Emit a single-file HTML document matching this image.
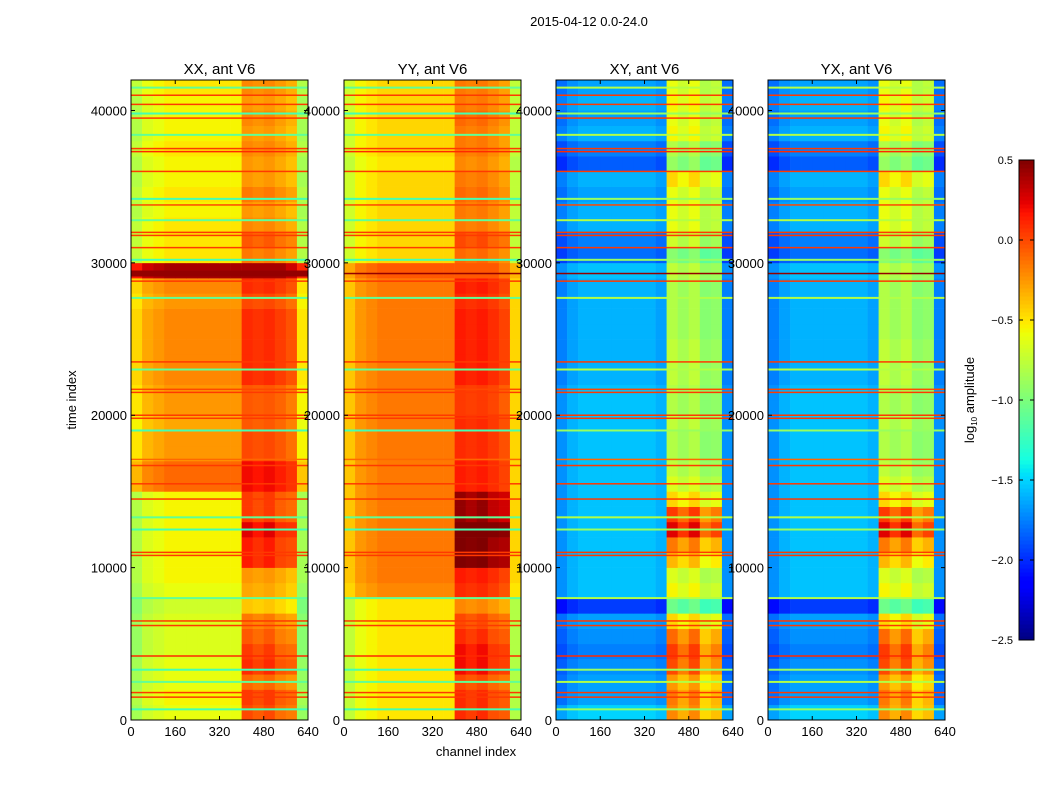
<!DOCTYPE html>
<html><head><meta charset="utf-8"><style>
body{margin:0;background:#fff;font-family:"Liberation Sans",sans-serif;}
svg text{font-family:"Liberation Sans",sans-serif;fill:#000}
</style></head><body>
<svg id="fig" width="1050" height="800" viewBox="0 0 1050 800" xmlns="http://www.w3.org/2000/svg">
<rect width="1050" height="800" fill="#fff"/>
<text x="589" y="26" font-size="13" text-anchor="middle">2015-04-12 0.0-24.0</text>
<text transform="translate(76,400) rotate(-90)" font-size="13" text-anchor="middle">time index</text>
<text x="476" y="756" font-size="13" text-anchor="middle">channel index</text>
<g id="panels"></g>
<g id="cbar"></g>
<text transform="translate(974,400) rotate(-90)" font-size="13" text-anchor="middle">log<tspan font-size="8" dy="3">10</tspan><tspan dy="-3"> amplitude</tspan></text>
</svg>
<script>
// ---- data ----
const panelTitles = ["XX, ant V6","YY, ant V6","XY, ant V6","YX, ant V6"];
const xTicks = [0,160,320,480,640];
const yTicks = [0,10000,20000,30000,40000];
const cbTicks = [0.5,0.0,-0.5,-1.0,-1.5,-2.0,-2.5];
const cbLabels = ["0.5","0.0","\u22120.5","\u22121.0","\u22121.5","\u22122.0","\u22122.5"];
// row base values per 1000-sample time bin (42 bins, bottom to top)
const rowXX = [-0.6,-0.55,-0.6,-0.6,-0.65,-0.65,-0.65,-0.7,-0.6,-0.55,-0.55,-0.55,-0.55,-0.55,-0.55,-0.1,-0.1,-0.25,-0.25,-0.3,-0.25,-0.25,-0.2,-0.2,-0.2,-0.2,-0.2,-0.25,-0.2,0.4,-0.5,-0.5,-0.5,-0.55,-0.5,-0.55,-0.55,-0.5,-0.55,-0.55,-0.55,-0.5];
const rowYY = [-0.5,-0.5,-0.5,-0.5,-0.5,-0.5,-0.5,-0.5,-0.2,-0.15,-0.15,-0.15,-0.15,-0.15,-0.15,-0.15,-0.15,-0.15,-0.15,-0.15,-0.15,-0.15,-0.15,-0.15,-0.15,-0.15,-0.15,-0.15,-0.15,-0.05,-0.45,-0.45,-0.45,-0.45,-0.45,-0.45,-0.5,-0.45,-0.45,-0.45,-0.45,-0.45];
const rowXY = [-1.5,-1.65,-1.65,-1.7,-1.75,-1.7,-1.65,-1.95,-1.55,-1.55,-1.55,-1.55,-1.55,-1.55,-1.55,-1.55,-1.55,-1.55,-1.55,-1.55,-1.55,-1.55,-1.6,-1.6,-1.6,-1.6,-1.6,-1.6,-1.6,-1.55,-1.8,-1.75,-1.6,-1.6,-1.65,-1.6,-1.85,-1.75,-1.6,-1.65,-1.6,-1.65];
const rowYX = [-1.5,-1.65,-1.65,-1.7,-1.75,-1.7,-1.65,-1.95,-1.55,-1.55,-1.55,-1.55,-1.55,-1.55,-1.55,-1.55,-1.55,-1.55,-1.55,-1.55,-1.55,-1.55,-1.6,-1.6,-1.6,-1.6,-1.6,-1.6,-1.6,-1.55,-1.8,-1.75,-1.6,-1.6,-1.65,-1.6,-1.85,-1.75,-1.6,-1.65,-1.6,-1.65];
// channel offsets per 40-channel bin (16 bins)
const chanPar = [-0.25,-0.1,-0.05,0,0,0,0,0,0,0,0,0,0,0,-0.1,-0.3];
const chanCross = [-0.15,-0.05,0,0,0,0,0,0,0,-0.05,0,0,0,0,-0.05,-0.15];
// RFI channel mask (400-600) and strength per time bin
const rfiMask = [0,0,0,0,0,0,0,0,0,0,1,0.9,1,0.8,0.9,0];
const rfiPar = [0.6,0.6,0.5,0.7,0.7,0.6,0.5,0.3,0.3,0.3,0.7,0.7,0.8,0.6,0.6,0.3,0.3,0.25,0.25,0.25,0.2,0.2,0.3,0.3,0.3,0.3,0.3,0.25,0.3,0,0.35,0.45,0.3,0.3,0.35,0.3,0.3,0.3,0.3,0.35,0.3,0.3];
const rfiCross = [1.3,1.5,1.4,1.7,1.8,1.6,1.2,0.9,1.0,0.9,1.2,1.4,1.8,1.6,1.1,0.9,0.8,0.75,0.75,0.8,0.75,0.75,0.85,0.85,0.85,0.8,0.8,0.8,0.8,0.8,0.85,1.05,1.0,1.0,1.05,1.15,0.95,0.95,1.05,1.05,1.05,1.05];
// flagged/RFI time lines (time index, value)
const flagTimes = [1500,1800,4200,6200,6500,10800,11000,14500,15500,16700,17100,19800,20000,21500,21700,23500,28800,29300,31000,31800,32000,33800,36000,37300,37500,39500,40400,41000];
const flagVals  = [0.05,0.05,0.1,0.05,0.05,0.05,0.05,0.05,0.05,0.05,-0.1,0.05,0.05,0.05,0.0,0.05,0.05,0.45,0.05,0.05,0.05,0.0,0.05,0.1,0.05,0.05,0.05,0.05];
const cyanTimes = [700,2500,3300,8000,12500,13300,19000,23000,27700,30200,32800,34200,38400,39800,41500];
const cyanVals  = [-1.2,-1.1,-1.2,-1.1,-1.2,-1.1,-1.2,-1.1,-1.1,-1.2,-1.1,-1.2,-1.1,-1.2,-1.1];

const panelRows = [rowXX,rowYY,rowXY,rowYX];
const panelChan = [chanPar,chanPar,chanCross,chanCross];
const panelRfi = [rfiPar,rfiPar,rfiCross,rfiCross];
const panelX = [131,344,556,768];
const PW = 177, PT = 80, PB = 720;

const JR=[[0,0],[0.35,0],[0.66,1],[0.89,1],[1,0.5]];
const JG=[[0,0],[0.125,0],[0.375,1],[0.64,1],[0.91,0],[1,0]];
const JB=[[0,0.5],[0.11,1],[0.34,1],[0.65,0],[1,0]];
function seg(s,t){for(let i=1;i<s.length;i++){if(t<=s[i][0]){const a=s[i-1],b=s[i];return a[1]+(b[1]-a[1])*(t-a[0])/(b[0]-a[0]);}}return s[s.length-1][1];}
function jet(v){
  let t=(v+2.5)/3; t=Math.max(0,Math.min(1,t));
  return `rgb(${Math.round(seg(JR,t)*255)},${Math.round(seg(JG,t)*255)},${Math.round(seg(JB,t)*255)})`;
}
const NS="http://www.w3.org/2000/svg";
function mk(tag,attrs,parent){const e=document.createElementNS(NS,tag);for(const k in attrs)e.setAttribute(k,attrs[k]);parent.appendChild(e);return e;}
const yScale=t=>PB-t*(PB-PT)/42000;
const panels=document.getElementById('panels');
panelRows.forEach((rows,p)=>{
  const x0=panelX[p];
  const xScale=c=>x0+c*PW/640;
  const g=mk('g',{},panels);
  
  
  const chan=panelChan[p], rfi=panelRfi[p];
  rows.forEach((rv,r)=>{
    chan.forEach((cv,c)=>{
      const v=rv+cv+rfi[r]*rfiMask[c];
      const x1=xScale(c*40), x2=xScale((c+1)*40);
      const y1=yScale((r+1)*1000), y2=yScale(r*1000);
      const rc=mk('rect',{x:x1,y:y1,width:x2-x1+0.3,height:y2-y1+0.3,fill:jet(v)},g);
      
      
    });
  });
  cyanTimes.forEach((t,i)=>{
    const v=p<2?cyanVals[i]:cyanVals[i]+0.3;
    const l=mk('rect',{x:x0,y:yScale(t)-1,width:PW,height:2,fill:jet(v)},g);
    
    
  });
  flagTimes.forEach((t,i)=>{
    const h=flagVals[i]>0.3&&p===0?6:1.5;
    const l=mk('rect',{x:x0,y:yScale(t)-h/2,width:PW,height:h,fill:jet(flagVals[i])},g);
    
    
  });
  mk('rect',{x:x0,y:PT,width:PW,height:PB-PT,fill:'none',stroke:'#000','stroke-width':1},g);
  const tt=mk('text',{x:x0+PW/2,y:PT-6,'font-size':15,'text-anchor':'middle'},g);
  tt.textContent=panelTitles[p];
  
  
  xTicks.forEach(v=>{
    const x=xScale(v);
    mk('line',{x1:x,x2:x,y1:PB,y2:PB-4,stroke:'#000'},g);
    mk('line',{x1:x,x2:x,y1:PT,y2:PT+4,stroke:'#000'},g);
    const t=mk('text',{x:x,y:PB+16,'font-size':13,'text-anchor':'middle'},g);
    t.textContent=v;
    
    
  });
  yTicks.forEach(v=>{
    const y=yScale(v);
    mk('line',{x1:x0,x2:x0+4,y1:y,y2:y,stroke:'#000'},g);
    mk('line',{x1:x0+PW,x2:x0+PW-4,y1:y,y2:y,stroke:'#000'},g);
    const t=mk('text',{x:x0-4,y:y+5,'font-size':13,'text-anchor':'end'},g);
    t.textContent=v;
    
    
  });
});
// colorbar
const cb=document.getElementById('cbar');
const CT=160,CB=640,CX=1019,CW=15;
const cScale=v=>CB-(v+2.5)*(CB-CT)/3;
for(let i=0;i<120;i++){
  const v=-2.5+3*i/120;
  const r=mk('rect',{x:CX,y:cScale(v+3/120),width:CW,height:(CB-CT)/120+0.5,fill:jet(v+1.5/120)},cb);
  
  
}
mk('rect',{x:CX,y:CT,width:CW,height:CB-CT,fill:'none',stroke:'#000'},cb);
cbTicks.forEach((v,i)=>{
  const y=cScale(v);
  mk('line',{x1:CX,x2:CX+4,y1:y,y2:y,stroke:'#000'},cb);
  mk('line',{x1:CX+CW-4,x2:CX+CW,y1:y,y2:y,stroke:'#000'},cb);
  const t=mk('text',{x:CX-6,y:y+4,'font-size':11,'text-anchor':'end'},cb);
  t.textContent=cbLabels[i];
  
  
});
</script>
</body></html>
